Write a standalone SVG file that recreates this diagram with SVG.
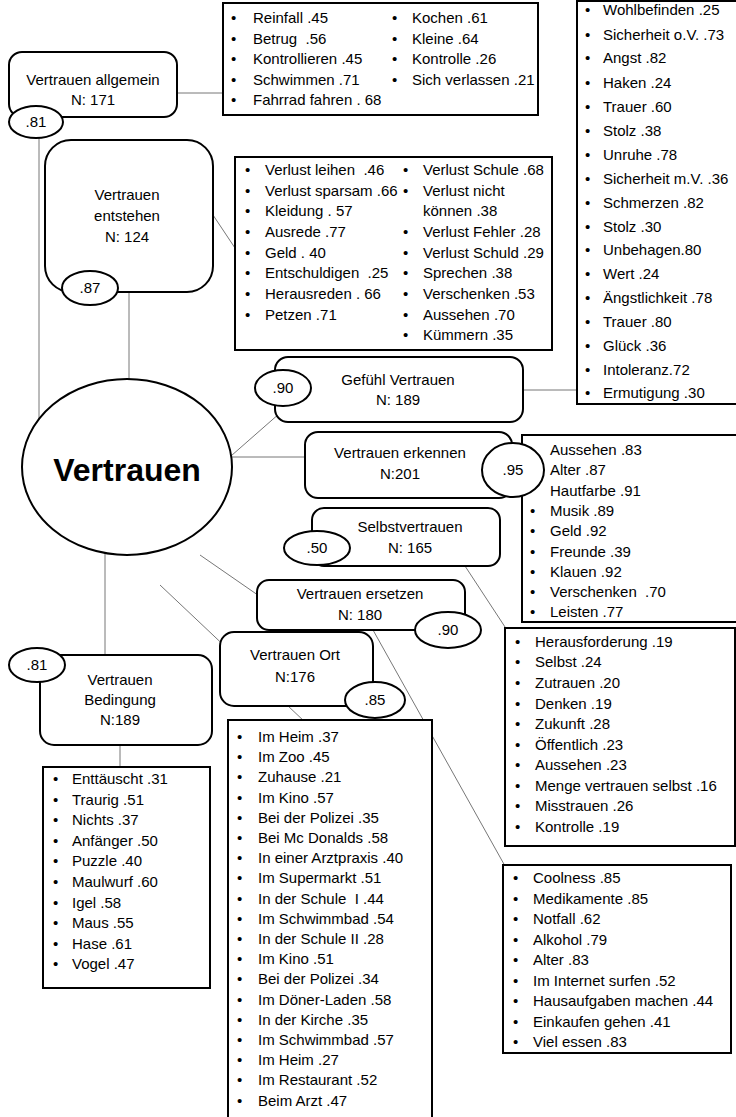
<svg xmlns="http://www.w3.org/2000/svg" width="736" height="1117" viewBox="0 0 736 1117">
<style>
.t{font-family:"Liberation Sans",Arial,sans-serif;font-size:15px;fill:#000}
.c{text-anchor:middle}
.big{font-family:"Liberation Sans",Arial,sans-serif;font-size:32px;font-weight:bold;text-anchor:middle;fill:#000}
.box{fill:#fff;stroke:#000;stroke-width:2}
.conn{stroke:#777;stroke-width:1;fill:none}
</style>
<rect width="736" height="1117" fill="#fff"/>
<g id="connectors">
<line class="conn" x1="177" y1="93" x2="223" y2="93"/>
<line class="conn" x1="39" y1="138" x2="39" y2="440"/>
<line class="conn" x1="213" y1="215" x2="235" y2="248"/>
<line class="conn" x1="129" y1="292" x2="129" y2="390"/>
<line class="conn" x1="523" y1="390" x2="577" y2="390"/>
<line class="conn" x1="280" y1="413" x2="215" y2="470"/>
<line class="conn" x1="225" y1="457" x2="305" y2="457"/>
<line class="conn" x1="465" y1="566" x2="507" y2="630"/>
<line class="conn" x1="200" y1="555" x2="265" y2="600"/>
<line class="conn" x1="373" y1="630" x2="505" y2="866"/>
<line class="conn" x1="160" y1="585" x2="305" y2="722"/>
<line class="conn" x1="105" y1="545" x2="105" y2="655"/>
<line class="conn" x1="120" y1="745" x2="120" y2="767"/>
</g>
<g id="list-allgemein">
<rect class="box" x="223" y="3" width="315" height="112"/>
<text class="t" xml:space="preserve"><tspan x="231" y="23">•</tspan><tspan x="253" y="23">Reinfall .45</tspan><tspan x="392" y="23">•</tspan><tspan x="412" y="23">Kochen .61</tspan></text>
<text class="t" xml:space="preserve"><tspan x="231" y="44">•</tspan><tspan x="253" y="44">Betrug  .56</tspan><tspan x="392" y="44">•</tspan><tspan x="412" y="44">Kleine .64</tspan></text>
<text class="t" xml:space="preserve"><tspan x="231" y="64">•</tspan><tspan x="253" y="64">Kontrollieren .45</tspan><tspan x="392" y="64">•</tspan><tspan x="412" y="64">Kontrolle .26</tspan></text>
<text class="t" xml:space="preserve"><tspan x="231" y="85">•</tspan><tspan x="253" y="85">Schwimmen .71</tspan><tspan x="392" y="85">•</tspan><tspan x="412" y="85">Sich verlassen .21</tspan></text>
<text class="t" xml:space="preserve"><tspan x="231" y="105">•</tspan><tspan x="253" y="105">Fahrrad fahren . 68</tspan></text>
</g>
<g id="list-gefuehl">
<rect class="box" x="577" y="1" width="162" height="403"/>
<text class="t"><tspan x="585" y="15">•</tspan><tspan x="603" y="15">Wohlbefinden .25</tspan></text>
<text class="t"><tspan x="585" y="40">•</tspan><tspan x="603" y="40">Sicherheit o.V. .73</tspan></text>
<text class="t"><tspan x="585" y="63">•</tspan><tspan x="603" y="63">Angst .82</tspan></text>
<text class="t"><tspan x="585" y="88">•</tspan><tspan x="603" y="88">Haken .24</tspan></text>
<text class="t"><tspan x="585" y="112">•</tspan><tspan x="603" y="112">Trauer .60</tspan></text>
<text class="t"><tspan x="585" y="136">•</tspan><tspan x="603" y="136">Stolz .38</tspan></text>
<text class="t"><tspan x="585" y="160">•</tspan><tspan x="603" y="160">Unruhe .78</tspan></text>
<text class="t"><tspan x="585" y="184">•</tspan><tspan x="603" y="184">Sicherheit m.V. .36</tspan></text>
<text class="t"><tspan x="585" y="208">•</tspan><tspan x="603" y="208">Schmerzen .82</tspan></text>
<text class="t"><tspan x="585" y="232">•</tspan><tspan x="603" y="232">Stolz .30</tspan></text>
<text class="t"><tspan x="585" y="255">•</tspan><tspan x="603" y="255">Unbehagen.80</tspan></text>
<text class="t"><tspan x="585" y="279">•</tspan><tspan x="603" y="279">Wert .24</tspan></text>
<text class="t"><tspan x="585" y="303">•</tspan><tspan x="603" y="303">Ängstlichkeit .78</tspan></text>
<text class="t"><tspan x="585" y="327">•</tspan><tspan x="603" y="327">Trauer .80</tspan></text>
<text class="t"><tspan x="585" y="351">•</tspan><tspan x="603" y="351">Glück .36</tspan></text>
<text class="t"><tspan x="585" y="375">•</tspan><tspan x="603" y="375">Intoleranz.72</tspan></text>
<text class="t"><tspan x="585" y="398">•</tspan><tspan x="603" y="398">Ermutigung .30</tspan></text>
</g>
<g id="list-entstehen">
<rect class="box" x="235" y="157" width="317" height="193"/>
<text class="t" xml:space="preserve"><tspan x="245" y="175">•</tspan><tspan x="265" y="175">Verlust leihen  .46</tspan><tspan x="403" y="175">•</tspan><tspan x="423" y="175">Verlust Schule .68</tspan></text>
<text class="t" xml:space="preserve"><tspan x="245" y="196">•</tspan><tspan x="265" y="196">Verlust sparsam .66</tspan><tspan x="403" y="196">•</tspan><tspan x="423" y="196">Verlust nicht</tspan></text>
<text class="t" xml:space="preserve"><tspan x="245" y="216">•</tspan><tspan x="265" y="216">Kleidung . 57</tspan><tspan x="423" y="216">können .38</tspan></text>
<text class="t" xml:space="preserve"><tspan x="245" y="237">•</tspan><tspan x="265" y="237">Ausrede .77</tspan><tspan x="403" y="237">•</tspan><tspan x="423" y="237">Verlust Fehler .28</tspan></text>
<text class="t" xml:space="preserve"><tspan x="245" y="258">•</tspan><tspan x="265" y="258">Geld . 40</tspan><tspan x="403" y="258">•</tspan><tspan x="423" y="258">Verlust Schuld .29</tspan></text>
<text class="t" xml:space="preserve"><tspan x="245" y="278">•</tspan><tspan x="265" y="278">Entschuldigen  .25</tspan><tspan x="403" y="278">•</tspan><tspan x="423" y="278">Sprechen .38</tspan></text>
<text class="t" xml:space="preserve"><tspan x="245" y="299">•</tspan><tspan x="265" y="299">Herausreden . 66</tspan><tspan x="403" y="299">•</tspan><tspan x="423" y="299">Verschenken .53</tspan></text>
<text class="t" xml:space="preserve"><tspan x="245" y="320">•</tspan><tspan x="265" y="320">Petzen .71</tspan><tspan x="403" y="320">•</tspan><tspan x="423" y="320">Aussehen .70</tspan></text>
<text class="t" xml:space="preserve"><tspan x="403" y="340">•</tspan><tspan x="423" y="340">Kümmern .35</tspan></text>
</g>
<g id="list-erkennen">
<rect class="box" x="522" y="435" width="217" height="187"/>
<text class="t" x="550" y="455">Aussehen .83</text>
<text class="t" x="550" y="475">Alter .87</text>
<text class="t" x="550" y="496">Hautfarbe .91</text>
<text class="t"><tspan x="530" y="516">•</tspan><tspan x="550" y="516">Musik .89</tspan></text>
<text class="t"><tspan x="530" y="536">•</tspan><tspan x="550" y="536">Geld .92</tspan></text>
<text class="t"><tspan x="530" y="557">•</tspan><tspan x="550" y="557">Freunde .39</tspan></text>
<text class="t"><tspan x="530" y="577">•</tspan><tspan x="550" y="577">Klauen .92</tspan></text>
<text class="t" xml:space="preserve"><tspan x="530" y="597">•</tspan><tspan x="550" y="597">Verschenken  .70</tspan></text>
<text class="t"><tspan x="530" y="617">•</tspan><tspan x="550" y="617">Leisten .77</tspan></text>
</g>
<g id="list-selbst">
<rect class="box" x="505" y="628" width="230" height="218"/>
<text class="t"><tspan x="515" y="647">•</tspan><tspan x="535" y="647">Herausforderung .19</tspan></text>
<text class="t"><tspan x="515" y="667">•</tspan><tspan x="535" y="667">Selbst .24</tspan></text>
<text class="t"><tspan x="515" y="688">•</tspan><tspan x="535" y="688">Zutrauen .20</tspan></text>
<text class="t"><tspan x="515" y="709">•</tspan><tspan x="535" y="709">Denken .19</tspan></text>
<text class="t"><tspan x="515" y="729">•</tspan><tspan x="535" y="729">Zukunft .28</tspan></text>
<text class="t"><tspan x="515" y="750">•</tspan><tspan x="535" y="750">Öffentlich .23</tspan></text>
<text class="t"><tspan x="515" y="770">•</tspan><tspan x="535" y="770">Aussehen .23</tspan></text>
<text class="t"><tspan x="515" y="791">•</tspan><tspan x="535" y="791">Menge vertrauen selbst .16</tspan></text>
<text class="t"><tspan x="515" y="811">•</tspan><tspan x="535" y="811">Misstrauen .26</tspan></text>
<text class="t"><tspan x="515" y="832">•</tspan><tspan x="535" y="832">Kontrolle .19</tspan></text>
</g>
<g id="list-ersetzen">
<rect class="box" x="503" y="865" width="228" height="188"/>
<text class="t"><tspan x="513" y="883">•</tspan><tspan x="533" y="883">Coolness .85</tspan></text>
<text class="t"><tspan x="513" y="904">•</tspan><tspan x="533" y="904">Medikamente .85</tspan></text>
<text class="t"><tspan x="513" y="924">•</tspan><tspan x="533" y="924">Notfall .62</tspan></text>
<text class="t"><tspan x="513" y="945">•</tspan><tspan x="533" y="945">Alkohol .79</tspan></text>
<text class="t"><tspan x="513" y="965">•</tspan><tspan x="533" y="965">Alter .83</tspan></text>
<text class="t"><tspan x="513" y="986">•</tspan><tspan x="533" y="986">Im Internet surfen .52</tspan></text>
<text class="t"><tspan x="513" y="1006">•</tspan><tspan x="533" y="1006">Hausaufgaben machen .44</tspan></text>
<text class="t"><tspan x="513" y="1027">•</tspan><tspan x="533" y="1027">Einkaufen gehen .41</tspan></text>
<text class="t"><tspan x="513" y="1047">•</tspan><tspan x="533" y="1047">Viel essen .83</tspan></text>
</g>
<g id="list-ort">
<rect class="box" x="228" y="720" width="204" height="410"/>
<text class="t"><tspan x="237" y="742">•</tspan><tspan x="258" y="742">Im Heim .37</tspan></text>
<text class="t"><tspan x="237" y="762">•</tspan><tspan x="258" y="762">Im Zoo .45</tspan></text>
<text class="t"><tspan x="237" y="782">•</tspan><tspan x="258" y="782">Zuhause .21</tspan></text>
<text class="t"><tspan x="237" y="803">•</tspan><tspan x="258" y="803">Im Kino .57</tspan></text>
<text class="t"><tspan x="237" y="823">•</tspan><tspan x="258" y="823">Bei der Polizei .35</tspan></text>
<text class="t"><tspan x="237" y="843">•</tspan><tspan x="258" y="843">Bei Mc Donalds .58</tspan></text>
<text class="t"><tspan x="237" y="863">•</tspan><tspan x="258" y="863">In einer Arztpraxis .40</tspan></text>
<text class="t"><tspan x="237" y="883">•</tspan><tspan x="258" y="883">Im Supermarkt .51</tspan></text>
<text class="t" xml:space="preserve"><tspan x="237" y="904">•</tspan><tspan x="258" y="904">In der Schule  I .44</tspan></text>
<text class="t"><tspan x="237" y="924">•</tspan><tspan x="258" y="924">Im Schwimmbad .54</tspan></text>
<text class="t"><tspan x="237" y="944">•</tspan><tspan x="258" y="944">In der Schule II .28</tspan></text>
<text class="t"><tspan x="237" y="964">•</tspan><tspan x="258" y="964">Im Kino .51</tspan></text>
<text class="t"><tspan x="237" y="984">•</tspan><tspan x="258" y="984">Bei der Polizei .34</tspan></text>
<text class="t"><tspan x="237" y="1005">•</tspan><tspan x="258" y="1005">Im Döner-Laden .58</tspan></text>
<text class="t"><tspan x="237" y="1025">•</tspan><tspan x="258" y="1025">In der Kirche .35</tspan></text>
<text class="t"><tspan x="237" y="1045">•</tspan><tspan x="258" y="1045">Im Schwimmbad .57</tspan></text>
<text class="t"><tspan x="237" y="1065">•</tspan><tspan x="258" y="1065">Im Heim .27</tspan></text>
<text class="t"><tspan x="237" y="1085">•</tspan><tspan x="258" y="1085">Im Restaurant .52</tspan></text>
<text class="t"><tspan x="237" y="1106">•</tspan><tspan x="258" y="1106">Beim Arzt .47</tspan></text>
</g>
<g id="list-bedingung">
<rect class="box" x="43" y="767" width="167" height="221"/>
<text class="t"><tspan x="53" y="784">•</tspan><tspan x="72" y="784">Enttäuscht .31</tspan></text>
<text class="t"><tspan x="53" y="805">•</tspan><tspan x="72" y="805">Traurig .51</tspan></text>
<text class="t"><tspan x="53" y="825">•</tspan><tspan x="72" y="825">Nichts .37</tspan></text>
<text class="t"><tspan x="53" y="846">•</tspan><tspan x="72" y="846">Anfänger .50</tspan></text>
<text class="t"><tspan x="53" y="866">•</tspan><tspan x="72" y="866">Puzzle .40</tspan></text>
<text class="t"><tspan x="53" y="887">•</tspan><tspan x="72" y="887">Maulwurf .60</tspan></text>
<text class="t"><tspan x="53" y="908">•</tspan><tspan x="72" y="908">Igel .58</tspan></text>
<text class="t"><tspan x="53" y="928">•</tspan><tspan x="72" y="928">Maus .55</tspan></text>
<text class="t"><tspan x="53" y="949">•</tspan><tspan x="72" y="949">Hase .61</tspan></text>
<text class="t"><tspan x="53" y="969">•</tspan><tspan x="72" y="969">Vogel .47</tspan></text>
</g>
<g id="node-vertrauen">
<ellipse class="box" cx="127" cy="467" rx="105" ry="88"/>
<text class="big" x="127" y="481">Vertrauen</text>
</g>
<g id="node-allgemein">
<rect class="box" x="9" y="52" width="168" height="65" rx="13"/>
<text class="t c" x="93" y="85">Vertrauen allgemein</text>
<text class="t c" x="93" y="105">N: 171</text>
<ellipse class="box" cx="36" cy="122" rx="27" ry="16"/>
<text class="t c" x="36" y="127">.81</text>
</g>
<g id="node-entstehen">
<rect class="box" x="45" y="140" width="168" height="152" rx="26"/>
<text class="t c" x="127" y="200">Vertrauen</text>
<text class="t c" x="127" y="221">entstehen</text>
<text class="t c" x="127" y="242">N: 124</text>
<ellipse class="box" cx="90" cy="288" rx="28" ry="17"/>
<text class="t c" x="90" y="293">.87</text>
</g>
<g id="node-gefuehl">
<rect class="box" x="275" y="357" width="248" height="65" rx="13"/>
<text class="t c" x="398" y="385">Gefühl Vertrauen</text>
<text class="t c" x="398" y="405">N: 189</text>
<ellipse class="box" cx="283" cy="388" rx="28" ry="18"/>
<text class="t c" x="283" y="393">.90</text>
</g>
<g id="node-erkennen">
<rect class="box" x="305" y="432" width="207" height="66" rx="13"/>
<text class="t c" x="400" y="458">Vertrauen erkennen</text>
<text class="t c" x="400" y="479">N:201</text>
<ellipse class="box" cx="513" cy="470" rx="31" ry="27"/>
<text class="t c" x="513" y="475">.95</text>
</g>
<g id="node-selbst">
<rect class="box" x="312" y="508" width="188" height="58" rx="12"/>
<text class="t c" x="410" y="532">Selbstvertrauen</text>
<text class="t c" x="410" y="553">N: 165</text>
<ellipse class="box" cx="317" cy="548" rx="33" ry="17"/>
<text class="t c" x="317" y="553">.50</text>
</g>
<g id="node-ersetzen">
<rect class="box" x="257" y="580" width="208" height="50" rx="12"/>
<text class="t c" x="360" y="599">Vertrauen ersetzen</text>
<text class="t c" x="360" y="620">N: 180</text>
<ellipse class="box" cx="448" cy="630" rx="33" ry="18"/>
<text class="t c" x="448" y="635">.90</text>
</g>
<g id="node-ort">
<rect class="box" x="220" y="632" width="153" height="74" rx="14"/>
<text class="t c" x="295" y="660">Vertrauen Ort</text>
<text class="t c" x="295" y="682">N:176</text>
<ellipse class="box" cx="375" cy="700" rx="30" ry="18"/>
<text class="t c" x="375" y="705">.85</text>
</g>
<g id="node-bedingung">
<rect class="box" x="40" y="655" width="172" height="90" rx="14"/>
<text class="t c" x="120" y="685">Vertrauen</text>
<text class="t c" x="120" y="705">Bedingung</text>
<text class="t c" x="120" y="725">N:189</text>
<ellipse class="box" cx="37" cy="665" rx="28" ry="17"/>
<text class="t c" x="37" y="670">.81</text>
</g>
</svg>
